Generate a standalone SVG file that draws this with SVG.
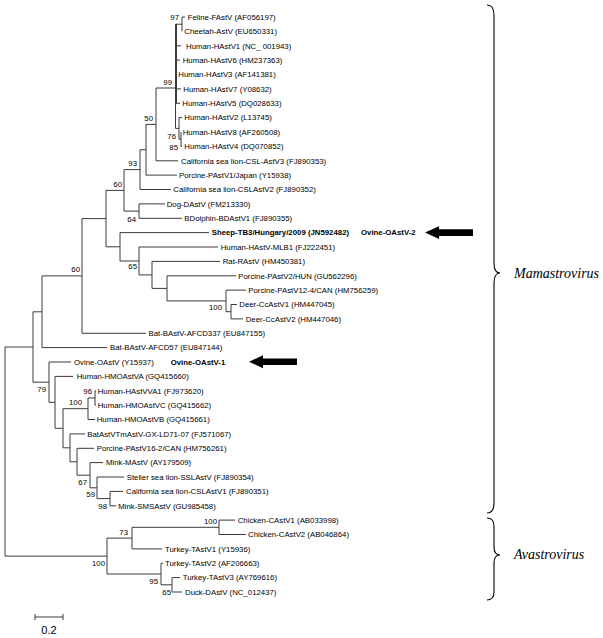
<svg xmlns="http://www.w3.org/2000/svg" width="603" height="638" viewBox="0 0 603 638">
<style>
.l{font-family:"Liberation Sans",Arial,sans-serif;font-size:7.8px;fill:#000}
.b{font-weight:bold}
.bs{font-family:"Liberation Sans",Arial,sans-serif;font-size:7.8px;text-anchor:end;fill:#000}
.e{fill:none;stroke:#3a3a3a;stroke-width:1}
.g{font-family:"Liberation Serif","Times New Roman",serif;font-style:italic;font-size:14px;fill:#000}
.br{fill:none;stroke:#000;stroke-width:1.1}
</style>
<rect width="603" height="638" fill="#fff"/>
<g id="connectors" class="e">
<path d="M182,17V31.4M182,17H185M175.5,24.2H182M176.5,24.2V103.3M175.5,24.2V128.4M176,45.8H181M176,60.1H180M176,88.9H181M176,103.3H180M179,117.6V139.2M175.5,128.4H179M179,117.6H182M181,132V146.4M179,139.2H181M181,146.4H182"/>
<path d="M156,88V160.8M156,88H175.5M156,160.8H178M146,124.4V175.1M146,124.4H156M146,175.1H177M140,149.8V189.5M140,149.8H146M140,189.5H171M139,203.9V218.3M139,203.9H165M139,218.3H182M124,169.6V211.1M124,169.6H140M124,211.1H139"/>
<path d="M106,190.4V246.8M106,190.4H124M106,246.8H120M120,232.6V261M120,232.6H209M120,261H139M139,247V274.9M139,247H218M139,274.9H152M152,261.4V288.4M152,261.4H220M152,288.4H167M167,275.8V300.9M167,275.8H236M167,300.9H226M226,290.1V311.7M226,290.1H246M226,311.7H231M231,304.5V318.9M231,304.5H237M231,318.9H243"/>
<path d="M82,218.6V333.3M82,218.6H106M82,333.3H146M42,275.9V347.6M42,275.9H82M42,347.6H107M33,311.8V382.2M33,311.8H42M33,382.2H49"/>
<path d="M49,362V402.3M49,362H71M49,402.3H55M55,376.4V428.3M55,376.4H73M55,428.3H63M63,408.7V447.8M63,408.7H88M63,447.8H70M88,398V419.5M88,398H95M88,419.5H95M95,390.8V405.1M95,390.8H96M95,405.1H96"/>
<path d="M70,433.9V461.8M70,433.9H85M70,461.8H77M77,448.3V475.2M77,448.3H94M77,475.2H90M90,462.6V487.8M90,462.6H103M90,487.8H97M97,477V498.6M97,477H124M97,498.6H110M110,491.4V505.8M110,491.4H123M110,505.8H116"/>
<path d="M5,347V556.1M5,347H33M5,556.1H107M107,538.1V574M107,538.1H132M107,574H161M132,527.3V548.9M132,527.3H219M132,548.9H162M219,520.1V534.5M219,520.1H235M219,534.5H246M161,563.3V584.8M161,563.3H163M161,584.8H172M172,577.6V592M172,577.6H180M172,592H182"/>
</g>
<g id="leaves" class="l">
<text id="t0" x="187.7" y="19.8">Feline-FAstV (AF056197)</text>
<text id="t1" x="184.3" y="34.2">Cheetah-AstV (EU650331)</text>
<text id="t2" x="186" y="48.6">Human-HAstV1 (NC_ 001943)</text>
<text id="t3" x="182.7" y="62.9">Human-HAstV6 (HM237363)</text>
<text id="t4" x="178.3" y="77.3">Human-HAstV3 (AF141381)</text>
<text id="t5" x="183.3" y="91.7">Human-HAstV7 (Y08632)</text>
<text id="t6" x="182.3" y="106.1">Human-HAstV5 (DQ028633)</text>
<text id="t7" x="184.3" y="120.4">Human-HAstV2 (L13745)</text>
<text id="t8" x="182.7" y="134.8">Human-HAstV8 (AF260508)</text>
<text id="t9" x="184.3" y="149.2">Human-HAstV4 (DQ070852)</text>
<text id="t10" x="181" y="163.6">California sea lion-CSL-AstV3 (FJ890353)</text>
<text id="t11" x="179" y="177.9">Porcine-PAstV1/Japan (Y15938)</text>
<text id="t12" x="173.3" y="192.3">California sea lion-CSLAstV2 (FJ890352)</text>
<text id="t13" x="166.7" y="206.7">Dog-DAstV (FM213330)</text>
<text id="t14" x="184.3" y="221.1">BDolphin-BDAstV1 (FJ890355)</text>
<text id="t15" class="b" x="211.7" y="235.4">Sheep-TB3/Hungary/2009 (JN592482)</text>
<text id="t16" x="220.7" y="249.8">Human-HAstV-MLB1 (FJ222451)</text>
<text id="t17" x="222.7" y="264.2">Rat-RAstV (HM450381)</text>
<text id="t18" x="238.3" y="278.6">Porcine-PAstV2/HUN (GU562296)</text>
<text id="t19" x="248.3" y="292.9">Porcine-PAstV12-4/CAN (HM756259)</text>
<text id="t20" x="239.3" y="307.3">Deer-CcAstV1 (HM447045)</text>
<text id="t21" x="245.7" y="321.7">Deer-CcAstV2 (HM447046)</text>
<text id="t22" x="148.5" y="336.1">Bat-BAstV-AFCD337 (EU847155)</text>
<text id="t23" x="110" y="350.4">Bat-BAstV-AFCD57 (EU847144)</text>
<text id="t24" x="74" y="364.8">Ovine-OAstV (Y15937)</text>
<text id="t25" x="76.7" y="379.2">Human-HMOAstVA (GQ415660)</text>
<text id="t26" x="97.7" y="393.6">Human-HAstVVA1 (FJ973620)</text>
<text id="t27" x="97.7" y="407.9">Human-HMOAstVC (GQ415662)</text>
<text id="t28" x="96.7" y="422.3">Human-HMOAstVB (GQ415661)</text>
<text id="t29" x="87.3" y="436.7">BatAstVTmAstV-GX-LD71-07 (FJ571067)</text>
<text id="t30" x="96.7" y="451.1">Porcine-PAstV16-2/CAN (HM756261)</text>
<text id="t31" x="106" y="465.4">Mink-MAstV (AY179509)</text>
<text id="t32" x="126.7" y="479.8">Steller sea lion-SSLAstV (FJ890354)</text>
<text id="t33" x="126" y="494.2">California sea lion-CSLAstV1 (FJ890351)</text>
<text id="t34" x="118.3" y="508.6">Mink-SMSAstV (GU985458)</text>
<text id="t35" x="237.7" y="522.9">Chicken-CAstV1 (AB033998)</text>
<text id="t36" x="248" y="537.3">Chicken-CAstV2 (AB046864)</text>
<text id="t37" x="165" y="551.7">Turkey-TAstV1 (Y15936)</text>
<text id="t38" x="165" y="566.1">Turkey-TAstV2 (AF206663)</text>
<text id="t39" x="182.7" y="580.4">Turkey-TAstV3 (AY769616)</text>
<text id="t40" x="185" y="594.8">Duck-DAstV (NC_012437)</text>
</g>
<g id="bootstrap" class="bs">
<text x="179" y="19.8">97</text>
<text x="172" y="84.8">99</text>
<text x="153" y="120.8">50</text>
<text x="176" y="138.8">76</text>
<text x="178" y="149.8">85</text>
<text x="137" y="165.8">93</text>
<text x="122" y="186.8">60</text>
<text x="136" y="221.8">64</text>
<text x="137" y="268.8">65</text>
<text x="222" y="309.8">100</text>
<text x="80" y="271.8">60</text>
<text x="46" y="391.8">79</text>
<text x="92" y="393.8">96</text>
<text x="82" y="404.8">100</text>
<text x="87" y="484.8">67</text>
<text x="95" y="496.8">59</text>
<text x="107" y="508.8">98</text>
<text x="217" y="523.8">100</text>
<text x="128" y="534.8">73</text>
<text x="105" y="565.8">100</text>
<text x="158" y="583.8">95</text>
<text x="171" y="594.8">65</text>
</g>
<g id="ovine2">
<text class="l b" x="361" y="235.4">Ovine-OAstV-2</text>
<polygon points="425,232.6 439,226.3 439,229.3 473,229.3 473,235.9 439,235.9 439,238.9" fill="#000"/>
</g>
<g id="ovine1">
<text class="l b" x="170.7" y="364.8">Ovine-OAstV-1</text>
<polygon points="249,361.8 263,355.3 263,358.5 297,358.5 297,365.1 263,365.1 263,368.3" fill="#000"/>
</g>
<g id="mamastrovirus">
<path class="br" d="M487,5Q494,5 494,15V263Q494,273 500,273Q494,273 494,283V503Q494,513 487,513"/>
<text class="g" x="514" y="278">Mamastrovirus</text>
</g>
<g id="avastrovirus">
<path class="br" d="M487,518Q494,518 494,526V547Q494,555 500,555Q494,555 494,563V592Q494,600 487,600"/>
<text class="g" x="514" y="559">Avastrovirus</text>
</g>
<g id="scale">
<path class="e" d="M35,617H63M35,614V620M63,614V620"/>
<text class="l" x="49" y="634" style="font-size:11px;text-anchor:middle">0.2</text>
</g>
</svg>
